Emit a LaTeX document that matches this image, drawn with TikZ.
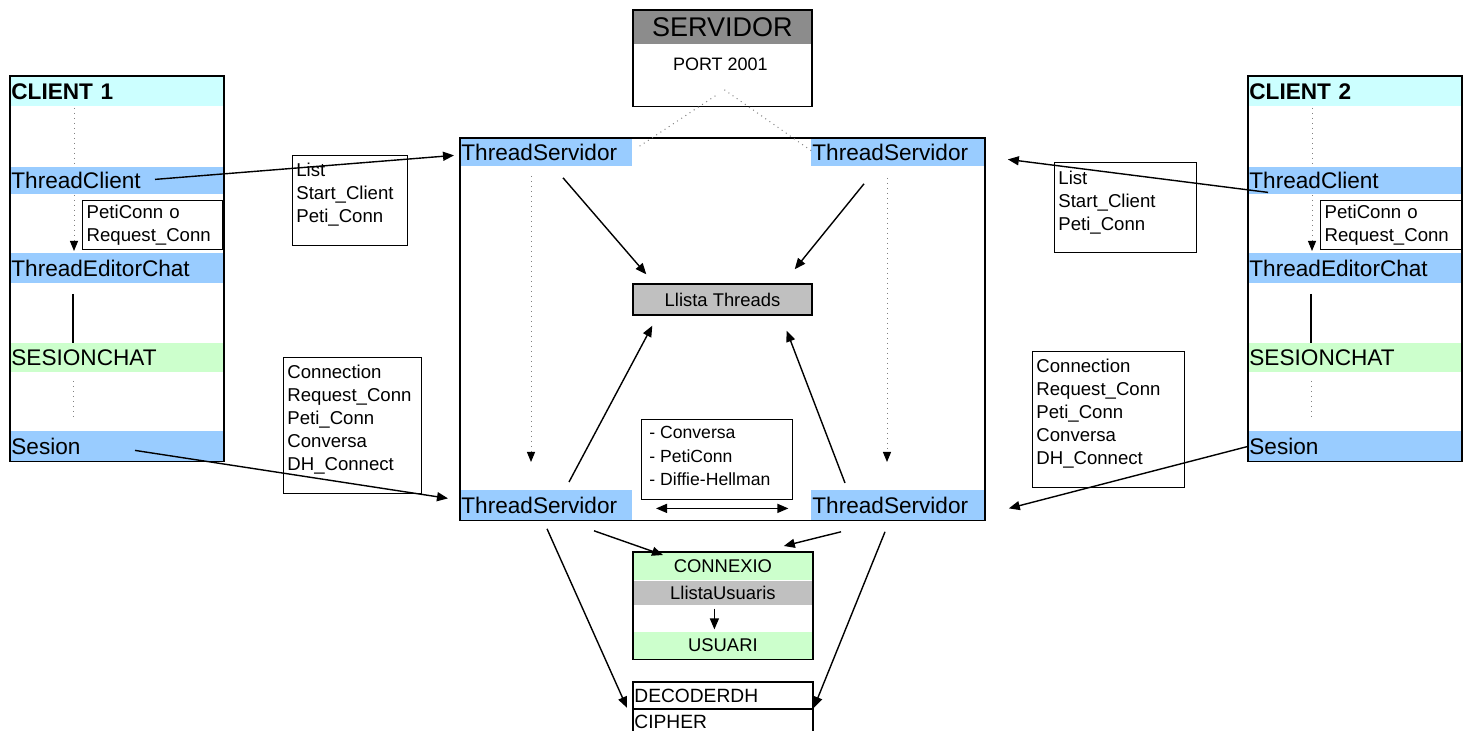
\documentclass[tikz,border=0pt]{standalone}
\usepackage{fontspec}
\setmainfont{Liberation Sans}
\usetikzlibrary{arrows.meta,calc}

\definecolor{rowblue}{RGB}{153,204,255}
\definecolor{headcyan}{RGB}{204,255,255}
\definecolor{rowgreen}{RGB}{204,255,204}
\definecolor{listgray}{RGB}{192,192,192}
\definecolor{servgray}{RGB}{140,140,140}

\newcommand{\rowfnt}{\fontsize{11.3}{13}\selectfont}
\newcommand{\notefnt}{\fontsize{9.3}{11.5}\selectfont}
\newcommand{\cellfnt}{\fontsize{9.2}{11}\selectfont}

\tikzset{
  frame/.style={draw, line width=0.7pt},
  row/.style={anchor=north west, inner sep=0.5pt, align=left, font=\rowfnt},
  cell/.style={anchor=north west, inner sep=0pt, minimum width=89.5pt, font=\cellfnt},
  note/.style={anchor=north west, inner sep=0pt, align=left, font=\notefnt},
  arr/.style={-{Triangle[length=5.5pt,width=4.5pt]}, line width=0.7pt},
  twoarr/.style={{Triangle[length=5.5pt,width=4.5pt]}-{Triangle[length=5.5pt,width=4.5pt]}, line width=0.7pt},
  dotarr/.style={-{Triangle[length=5pt,width=4pt,black]}, gray, dotted, line width=0.5pt},
  dots/.style={gray, dotted, line width=0.5pt},
}

\begin{document}
\begin{tikzpicture}[x=0.5pt, y=-0.5pt]
\useasboundingbox (0,0) rectangle (1466,731);

% servidor
\node[cell, minimum width=89pt, minimum height=17pt, fill=servgray,
  font=\fontsize{13.5}{15}\selectfont] (sv1) at (633,10) {SERVIDOR};
\node[cell, minimum width=89pt, minimum height=31pt] (sv2) at (633,44) {};
\node[font=\fontsize{9}{10}\selectfont] (port) at ($(sv2.north)+(-2,20)$) {PORT 2001};
\draw[frame] (sv1.north west) rectangle (sv2.south east);

% client 1
\node[row, text width=105.5pt, minimum height=15pt, fill=headcyan,
  font=\rowfnt\bfseries] (hd1) at (10,76) {CLIENT 1};
\node[row, text width=105.5pt, minimum height=13.5pt, fill=rowblue] (tc1) at (10,167) {ThreadClient};
\node[row, text width=105.5pt, minimum height=15pt, fill=rowblue] (ec1) at (10,253) {ThreadEditorChat};
\node[row, text width=105.5pt, minimum height=14.5pt, fill=rowgreen] (sc1) at (10,343) {SESIONCHAT};
\node[row, text width=105.5pt, minimum height=15pt, fill=rowblue] (se1) at (10,431) {Sesion};
\draw[frame] (hd1.north west) rectangle (se1.south east);
\node[frame, anchor=north west, fill=white, minimum width=70pt, minimum height=24.5pt,
  align=left, text width=66pt, inner sep=2pt, font=\notefnt] (pc1) at (82,200)
  {PetiConn o\\Request\_Conn};
\draw[dots] ($(hd1.south west)+(64,1)$) -- ($(tc1.north west)+(64,0)$);
\draw[dotarr] ($(tc1.south west)+(64,0)$) -- ($(ec1.north west)+(64,-2)$);
\draw[line width=0.7pt] ($(ec1.south west)+(63,10)$) -- ($(sc1.north west)+(63,0)$);
\draw[dots] ($(sc1.south west)+(63,8)$) -- ($(se1.north west)+(63,-11)$);

% client 2
\node[row, text width=105.5pt, minimum height=15pt, fill=headcyan,
  font=\rowfnt\bfseries] (hd2) at (1248,76) {CLIENT 2};
\node[row, text width=105.5pt, minimum height=13.5pt, fill=rowblue] (tc2) at (1248,167) {ThreadClient};
\node[row, text width=105.5pt, minimum height=15pt, fill=rowblue] (ec2) at (1248,253) {ThreadEditorChat};
\node[row, text width=105.5pt, minimum height=14.5pt, fill=rowgreen] (sc2) at (1248,343) {SESIONCHAT};
\node[row, text width=105.5pt, minimum height=15pt, fill=rowblue] (se2) at (1248,431) {Sesion};
\draw[frame] (hd2.north west) rectangle (se2.south east);
\node[frame, anchor=north west, fill=white, minimum width=70.5pt, minimum height=24.5pt,
  align=left, text width=66.5pt, inner sep=2pt, font=\notefnt] (pc2) at (1320,200)
  {PetiConn o\\Request\_Conn};
\draw[dots] ($(hd2.south west)+(64,1)$) -- ($(tc2.north west)+(64,0)$);
\draw[dotarr] ($(tc2.south west)+(64,0)$) -- ($(ec2.north west)+(64,-2)$);
\draw[line width=0.7pt] ($(ec2.south west)+(63,10)$) -- ($(sc2.north west)+(63,0)$);
\draw[dots] ($(sc2.south west)+(63,8)$) -- ($(se2.north west)+(63,-11)$);

% message boxes
\node[frame, anchor=north west, minimum width=57.5pt, minimum height=45pt] (ll) at (292,155) {};
\node[note] (llt) at ($(ll.north west)+(4,8)$) {List\\Start\_Client\\Peti\_Conn};
\node[frame, anchor=north west, minimum width=71pt, minimum height=45pt] (rl) at (1054,162) {};
\node[note] (rlt) at ($(rl.north west)+(4,9)$) {List\\Start\_Client\\Peti\_Conn};
\node[frame, anchor=north west, minimum width=69pt, minimum height=68pt] (lc) at (283,357) {};
\node[note] (lct) at ($(lc.north west)+(4,8)$)
  {Connection\\Request\_Conn\\Peti\_Conn\\Conversa\\DH\_Connect};
\node[frame, anchor=north west, minimum width=76pt, minimum height=68pt] (rc) at (1032,351) {};
\node[note] (rct) at ($(rc.north west)+(4,8)$)
  {Connection\\Request\_Conn\\Peti\_Conn\\Conversa\\DH\_Connect};

% servidor threads
\node[row, text width=85pt, minimum height=14pt, fill=rowblue] (tsA) at (460,138) {ThreadServidor};
\node[row, text width=85.5pt, minimum height=14pt, fill=rowblue] (tsB) at (811,138) {ThreadServidor};
\node[row, text width=85pt, minimum height=15pt, fill=rowblue] (tsC) at (460,490) {ThreadServidor};
\node[row, text width=85.5pt, minimum height=15pt, fill=rowblue] (tsD) at (811,490) {ThreadServidor};
\draw[frame] (tsA.north west) rectangle (tsD.south east);
\node[frame, fill=listgray, minimum width=89.5pt, minimum height=15.5pt, inner sep=0pt,
  font=\cellfnt] (lt) at (722.5,299.5) {Llista Threads};
\node[frame, anchor=north west, minimum width=75.5pt, minimum height=40pt] (cv) at (641,419) {};
\node[note, font=\fontsize{8.8}{11.7}\selectfont] (cvt) at ($(cv.north west)+(8,7)$)
  {- Conversa\\- PetiConn\\- Diffie-Hellman};

% connexio
\node[cell, minimum height=14pt, fill=rowgreen] (cx1) at (633,552) {CONNEXIO};
\node[cell, minimum height=12pt, fill=listgray] (cx2) at (cx1.south west) {LlistaUsuaris};
\node[cell, minimum height=12.5pt] (cx3) at (cx2.south west) {};
\node[cell, minimum height=13.5pt, fill=rowgreen] (cx4) at (cx3.south west) {USUARI};
\draw[frame] (cx1.north west) rectangle (cx4.south east);
\draw[arr] ($(cx3.north)+(-8.5,3)$) -- ($(cx3.south)+(-8.5,-2)$);

% decoder
\node[row, text width=88.5pt, minimum height=13pt, font=\fontsize{9.6}{11}\selectfont] (dec) at (633,682) {DECODERDH};
\node[row, text width=88.5pt, minimum height=12.5pt, font=\fontsize{9.6}{11}\selectfont] (cip) at (dec.south west) {CIPHER};
\draw[frame] (dec.north west) rectangle ($(cip.south east)+(0,2)$);
\draw[frame] (dec.south west) -- (dec.south east);

% links to servidor
\draw[dots] ($(sv2.south)+(-7,-11)$) -- ($(tsA.north east)+(4,10)$);
\draw[dots] ($(sv2.south)+(2,-17)$) -- ($(tsB.north west)+(2,14)$);

% client messages
\draw[arr] ($(tc1.west)+(145,-1.5)$) -- ($(tsA.west)+(-6,3)$);
\draw[arr] ($(tc2.west)+(20,11.5)$) -- ($(tsB.east)+(23,7)$);
\draw[arr] ($(se1.west)+(125,4)$) -- ($(tsC.west)+(-12,-7)$);
\draw[arr] (se2.west) -- ($(tsD.east)+(24,3)$);

% inside servidor
\draw[dotarr] ($(tsA.south west)+(71,9)$) -- ($(tsC.north west)+(71,-28)$);
\draw[dotarr] ($(tsB.south west)+(76,11)$) -- ($(tsD.north west)+(76,-28)$);
\draw[arr] ($(tsA.south west)+(103,11)$) -- ($(lt.north west)+(14,-9)$);
\draw[arr] ($(tsB.south west)+(53,17)$) -- ($(lt.north east)+(-18,-14)$);
\draw[arr] ($(tsC.north west)+(109,-8)$) -- ($(lt.south west)+(20,10)$);
\draw[arr] ($(tsD.north west)+(34,-7)$) -- ($(lt.south east)+(-26,15)$);
\draw[twoarr] ($(cv.south west)+(15,8)$) -- ($(cv.south east)+(-5,8)$);

% to connexio and decoder
\draw[arr] ($(tsC.south west)+(134,10)$) -- ($(cx1.north west)+(30,3)$);
\draw[arr] ($(tsD.south west)+(30,11)$) -- ($(cx1.north east)+(-29,-6)$);
\draw[arr] ($(tsC.south west)+(87,8)$) -- ($(dec.south west)+(-6,-1)$);
\draw[arr] ($(tsD.south west)+(74,11)$) -- ($(dec.south east)+(1,-1)$);
\end{tikzpicture}
\end{document}
